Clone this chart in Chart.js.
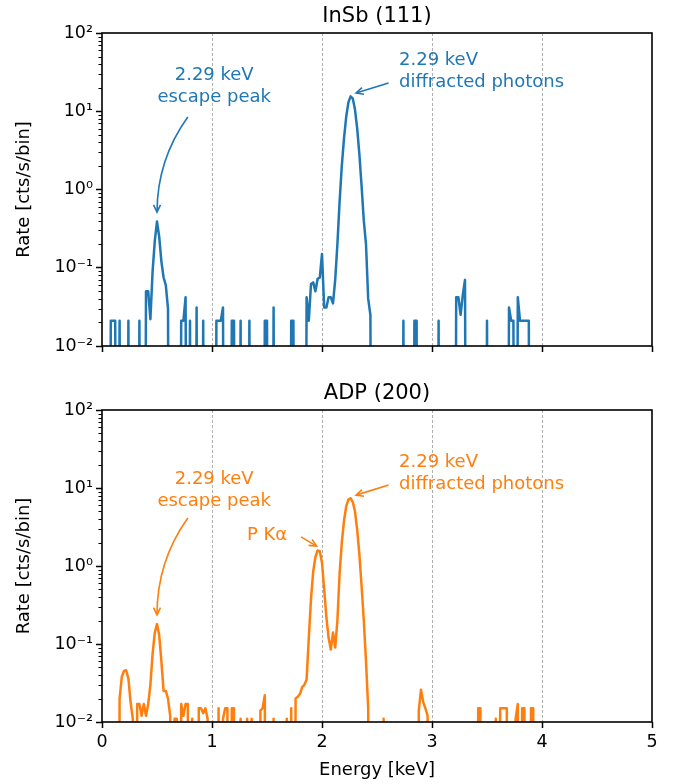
<!DOCTYPE html>
<html>
<head>
<meta charset="utf-8">
<script src="https://cdn.jsdelivr.net/npm/chart.js@4.4.0/dist/chart.umd.min.js"></script>
<style>
  body { margin: 0; background: #fff; }
  canvas { display: block; }
</style>
</head>
<body>
<canvas id="top" width="674" height="370"></canvas>
<canvas id="bottom" width="674" height="414"></canvas>
<script>
// spectra are binned in 0.02 keV steps starting at 0 keV
var binWidth = 0.02;

// InSb (111) rate per bin [cts/s/bin], 0.00 .. 4.00 keV
var rateInSb = [
  0, 0, 0, 0, 0.021, 0.021, 0.021, 0, 0.021, 0,
  0, 0, 0.021, 0, 0, 0, 0, 0.021, 0, 0,
  0.05, 0.05, 0.022, 0.09, 0.22, 0.39, 0.25, 0.12, 0.075, 0.06,
  0.03, 0, 0, 0, 0, 0, 0.021, 0.021, 0.042, 0,
  0.021, 0, 0, 0.031, 0, 0, 0.021, 0, 0, 0,
  0, 0, 0.021, 0.021, 0.021, 0.031, 0, 0, 0, 0.021,
  0.021, 0, 0, 0.021, 0, 0, 0, 0.021, 0, 0,
  0, 0, 0, 0, 0.021, 0.021, 0, 0, 0.031, 0,
  0, 0, 0, 0, 0, 0, 0.021, 0.021, 0, 0,
  0, 0, 0, 0.042, 0.021, 0.062, 0.065, 0.05, 0.072, 0.075,
  0.15, 0.031, 0.031, 0.042, 0.042, 0.035, 0.07, 0.2, 0.7, 2.0,
  4.5, 8.5, 13, 15.5, 14.5, 10.5, 6.0, 2.8, 1.1, 0.4,
  0.2, 0.04, 0.025, 0, 0, 0, 0, 0, 0, 0,
  0, 0, 0, 0, 0, 0, 0, 0.021, 0, 0,
  0, 0, 0.021, 0.021, 0, 0, 0, 0, 0, 0,
  0, 0, 0, 0.021, 0, 0, 0, 0, 0, 0,
  0, 0.042, 0.042, 0.025, 0.045, 0.07, 0, 0, 0, 0,
  0, 0, 0, 0, 0, 0.021, 0, 0, 0, 0,
  0, 0, 0, 0, 0, 0.031, 0.021, 0.021, 0, 0.042,
  0.021, 0.021, 0.021, 0.021, 0.021, 0, 0, 0, 0, 0,
  0
];

// ADP (200) rate per bin [cts/s/bin], 0.00 .. 4.00 keV
var rateADP = [
  0, 0, 0, 0, 0, 0, 0, 0, 0.02, 0.038,
  0.045, 0.046, 0.036, 0.018, 0.011, 0, 0.017, 0.017, 0.012, 0.017,
  0.012, 0.017, 0.03, 0.075, 0.14, 0.18, 0.13, 0.06, 0.025, 0.025,
  0.02, 0.012, 0, 0.011, 0.011, 0, 0.017, 0.012, 0.017, 0.017,
  0, 0.011, 0, 0, 0.015, 0.015, 0.013, 0.015, 0.011, 0,
  0, 0, 0, 0.015, 0, 0.011, 0.015, 0.015, 0, 0.015,
  0.015, 0, 0, 0.011, 0, 0, 0.011, 0, 0.011, 0,
  0, 0, 0.014, 0.015, 0.022, 0, 0, 0, 0.011, 0,
  0, 0, 0, 0, 0.011, 0, 0.015, 0, 0.02, 0.021,
  0.023, 0.028, 0.03, 0.035, 0.12, 0.38, 0.85, 1.3, 1.58, 1.55,
  1.1, 0.5, 0.22, 0.12, 0.085, 0.14, 0.09, 0.2, 0.8, 2.0,
  3.8, 5.8, 7.1, 7.4, 6.6, 5.0, 2.9, 1.4, 0.55, 0.2,
  0.06, 0.015, 0, 0, 0, 0, 0, 0, 0.011, 0,
  0, 0, 0, 0, 0, 0, 0, 0, 0, 0,
  0, 0, 0, 0, 0.014, 0.026, 0.018, 0.015, 0.012, 0,
  0, 0, 0, 0, 0, 0, 0, 0, 0, 0,
  0, 0, 0, 0, 0, 0, 0, 0, 0, 0,
  0, 0.015, 0.015, 0, 0, 0, 0, 0, 0, 0.011,
  0, 0.015, 0.015, 0.015, 0.015, 0, 0, 0, 0.011, 0.017,
  0, 0.015, 0.015, 0, 0, 0.015, 0.015, 0, 0, 0,
  0
];

var xTicks = [0, 1, 2, 3, 4, 5];
var yTickValues = [0.01, 0.1, 1, 10, 100];
var yTickLabels = ['10\u207B\u00B2', '10\u207B\u00B9', '10\u2070', '10\u00B9', '10\u00B2'];

// annotations: text anchor and arrow ends are in data units (keV, rate)
var notesInSb = [
  { lines: ['2.29 keV', 'escape peak'], at: [1.02, 29], align: 'center', from: [0.78, 8.45], to: [0.5, 0.515], rad: 0.16 },
  { lines: ['2.29 keV', 'diffracted photons'], at: [2.70, 45.2], align: 'left', from: [2.605, 23], to: [2.31, 17.1], rad: 0 }
];
var notesADP = [
  { lines: ['2.29 keV', 'escape peak'], at: [1.02, 12.9], align: 'center', from: [0.78, 4.12], to: [0.5, 0.236], rad: 0.16 },
  { lines: ['P K\u03B1'], at: [1.50, 2.5], align: 'center', from: [1.81, 2.36], to: [1.95, 1.8], rad: 0 },
  { lines: ['2.29 keV', 'diffracted photons'], at: [2.70, 21.5], align: 'left', from: [2.605, 10.9], to: [2.31, 8.1], rad: 0 }
];

var fontFamily = '"DejaVu Sans", sans-serif';

var framePlugin = {
  id: 'frame',
  afterDatasetsDraw: function (chart, args, opts) {
    var ctx = chart.ctx, a = chart.chartArea;
    var xs = chart.scales.x, ys = chart.scales.y;
    ctx.save();
    // minor ticks of the log axis
    ctx.strokeStyle = '#000';
    ctx.lineWidth = 1;
    for (var d = -2; d < 2; d++) {
      for (var m = 2; m < 10; m++) {
        var py = Math.round(ys.getPixelForValue(m * Math.pow(10, d))) + 0.5;
        ctx.beginPath();
        ctx.moveTo(a.left - 3.5, py);
        ctx.lineTo(a.left, py);
        ctx.stroke();
      }
    }
    ctx.lineWidth = 1.6;
    ctx.strokeRect(a.left, a.top, a.right - a.left, a.bottom - a.top);

    ctx.fillStyle = '#000';
    ctx.font = '21px ' + fontFamily;
    ctx.textAlign = 'center';
    ctx.textBaseline = 'alphabetic';
    ctx.fillText(opts.title, (a.left + a.right) / 2, a.top - 11);

    ctx.fillStyle = opts.color;
    ctx.strokeStyle = opts.color;
    ctx.font = '18px ' + fontFamily;
    ctx.textBaseline = 'middle';
    opts.notes.forEach(function (n) {
      ctx.textAlign = n.align;
      var tx = xs.getPixelForValue(n.at[0]), ty = ys.getPixelForValue(n.at[1]);
      n.lines.forEach(function (s, k) { ctx.fillText(s, tx, ty + k * 22); });

      var x0 = xs.getPixelForValue(n.from[0]), y0 = ys.getPixelForValue(n.from[1]);
      var x1 = xs.getPixelForValue(n.to[0]), y1 = ys.getPixelForValue(n.to[1]);
      var dx = x1 - x0, dy = y1 - y0;
      var cx = (x0 + x1) / 2 - n.rad * dy, cy = (y0 + y1) / 2 + n.rad * dx;
      ctx.lineWidth = 1.6;
      ctx.beginPath();
      ctx.moveTo(x0, y0);
      ctx.quadraticCurveTo(cx, cy, x1, y1);
      ctx.stroke();
      var ang = Math.atan2(y1 - cy, x1 - cx);
      ctx.beginPath();
      ctx.moveTo(x1 - 8 * Math.cos(ang - 0.45), y1 - 8 * Math.sin(ang - 0.45));
      ctx.lineTo(x1, y1);
      ctx.lineTo(x1 - 8 * Math.cos(ang + 0.45), y1 - 8 * Math.sin(ang + 0.45));
      ctx.stroke();
    });
    ctx.restore();
  }
};

function makeChart(id, rates, color, title, notes, padTop, xHeight, showX) {
  // zero-count bins go far below the axis, as on the original log plot
  var points = rates.map(function (r, i) {
    return { x: i * binWidth, y: r > 0 ? r : 1e-9 };
  });
  return new Chart(document.getElementById(id), {
    type: 'line',
    data: {
      datasets: [{
        data: points,
        borderColor: color,
        borderWidth: 2.5,
        borderJoinStyle: 'round',
        pointRadius: 0,
        tension: 0,
        fill: false
      }]
    },
    options: {
      responsive: false,
      animation: false,
      events: [],
      layout: { padding: { top: padTop, right: 22, left: 0, bottom: 0 } },
      plugins: {
        legend: { display: false },
        tooltip: { enabled: false },
        frame: { title: title, notes: notes, color: color }
      },
      scales: {
        x: {
          type: 'linear',
          min: 0,
          max: 5,
          afterBuildTicks: function (s) { s.ticks = xTicks.map(function (v) { return { value: v }; }); },
          afterFit: function (s) { s.height = xHeight; },
          border: { display: false, dash: [3, 2] },
          grid: {
            color: function (c) { return c.tick && c.tick.value > 0 && c.tick.value < 5 ? '#9a9a9a' : 'rgba(0,0,0,0)'; },
            lineWidth: 0.8,
            tickColor: '#000',
            tickLength: 6,
            tickWidth: 1.5,
            tickBorderDash: []
          },
          ticks: {
            color: '#000',
            padding: 4,
            maxRotation: 0,
            font: { family: fontFamily, size: 17.5 },
            callback: function (v) { return showX ? String(v) : ''; }
          },
          title: {
            display: showX,
            text: 'Energy [keV]',
            color: '#000',
            font: { family: fontFamily, size: 18 },
            padding: { top: 0, bottom: 3 }
          }
        },
        y: {
          type: 'logarithmic',
          min: 0.01,
          max: 100,
          afterBuildTicks: function (s) { s.ticks = yTickValues.map(function (v) { return { value: v }; }); },
          afterFit: function (s) { s.width = 102; },
          border: { display: false },
          grid: {
            drawOnChartArea: false,
            tickColor: '#000',
            tickLength: 6,
            tickWidth: 1.5
          },
          ticks: {
            color: '#000',
            padding: 3,
            font: { family: fontFamily, size: 17.5 },
            callback: function (v) { return yTickLabels[yTickValues.indexOf(v)]; }
          },
          title: {
            display: true,
            text: 'Rate [cts/s/bin]',
            color: '#000',
            font: { family: fontFamily, size: 18 },
            padding: { top: 14, bottom: 0 }
          }
        }
      }
    },
    plugins: [framePlugin]
  });
}

makeChart('top', rateInSb, '#1f77b4', 'InSb (111)', notesInSb, 33, 24, false);
makeChart('bottom', rateADP, '#ff7f0e', 'ADP (200)', notesADP, 40, 62, true);
</script>
</body>
</html>
